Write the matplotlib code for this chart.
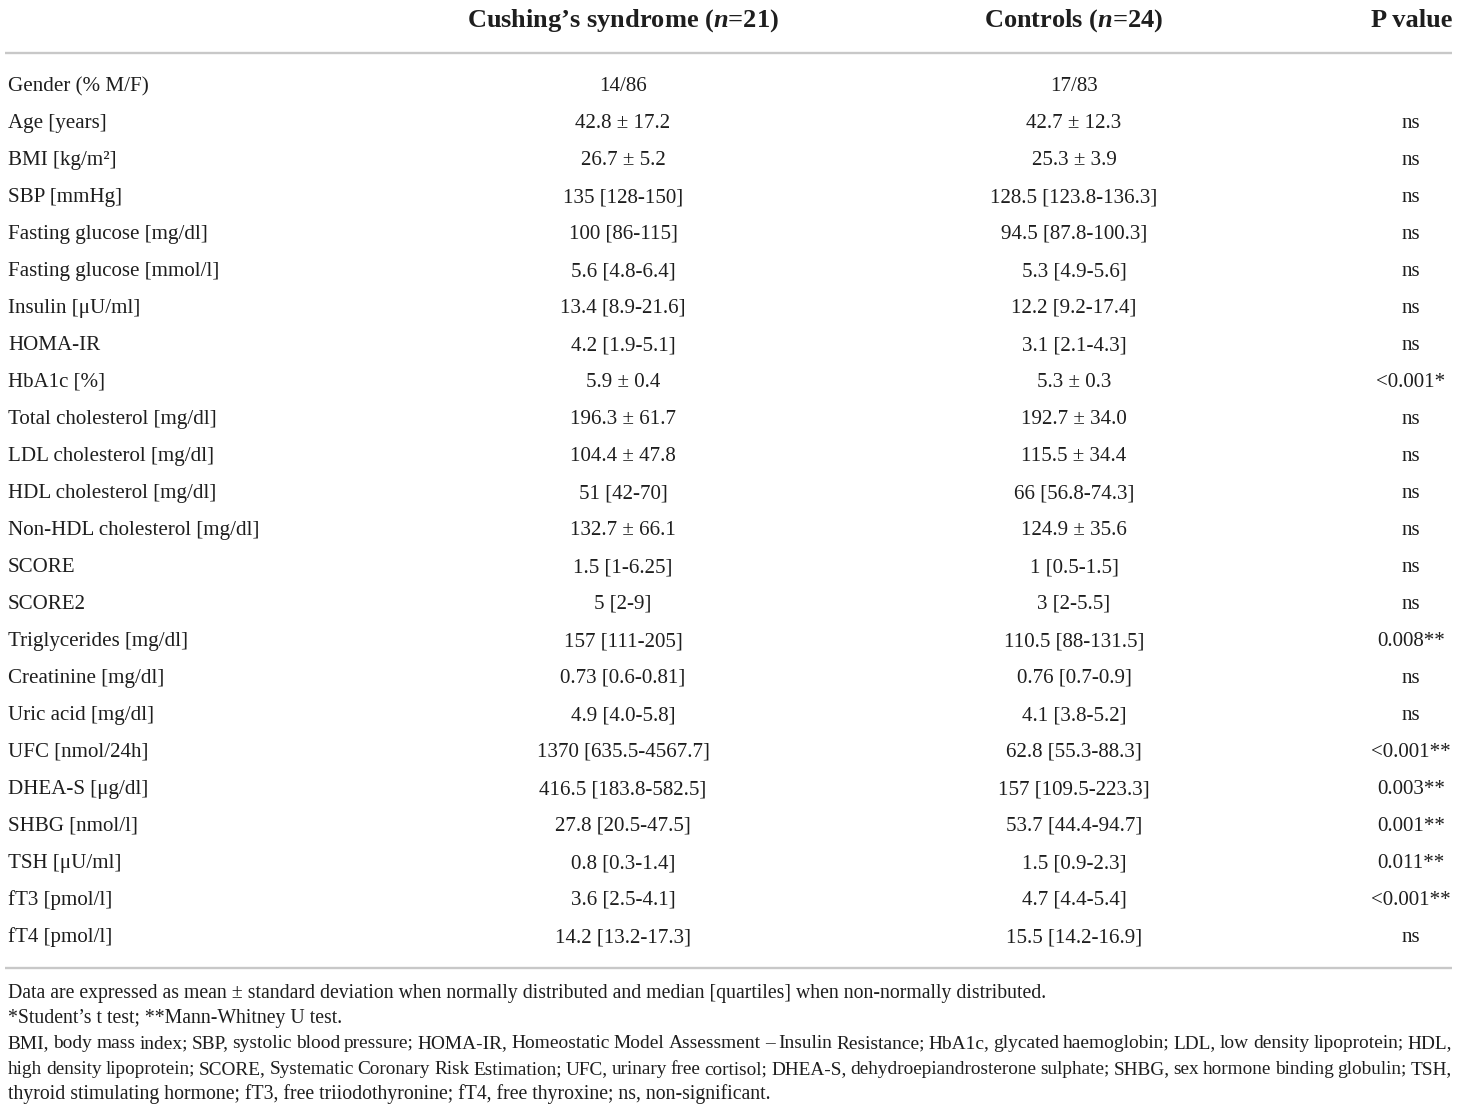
import matplotlib
matplotlib.use('Agg')
import matplotlib.pyplot as plt

plt.rcParams['font.family'] = 'Liberation Serif'
plt.rcParams['mathtext.fontset'] = 'custom'
plt.rcParams['mathtext.rm'] = 'Liberation Serif:bold'
plt.rcParams['mathtext.it'] = 'Liberation Serif:italic:bold'

headers = ['Cushing’s syndrome ($n$=21)', 'Controls ($n$=24)', 'P value']

labels = ['Gender (% M/F)', 'Age [years]', 'BMI [kg/m²]', 'SBP [mmHg]',
          'Fasting glucose [mg/dl]', 'Fasting glucose [mmol/l]', 'Insulin [μU/ml]',
          'HOMA-IR', 'HbA1c [%]', 'Total cholesterol [mg/dl]', 'LDL cholesterol [mg/dl]',
          'HDL cholesterol [mg/dl]', 'Non-HDL cholesterol [mg/dl]', 'SCORE', 'SCORE2',
          'Triglycerides [mg/dl]', 'Creatinine [mg/dl]', 'Uric acid [mg/dl]',
          'UFC [nmol/24h]', 'DHEA-S [μg/dl]', 'SHBG [nmol/l]', 'TSH [μU/ml]',
          'fT3 [pmol/l]', 'fT4 [pmol/l]']

cushing = ['14/86', '42.8 ± 17.2', '26.7 ± 5.2', '135 [128-150]', '100 [86-115]',
           '5.6 [4.8-6.4]', '13.4 [8.9-21.6]', '4.2 [1.9-5.1]', '5.9 ± 0.4',
           '196.3 ± 61.7', '104.4 ± 47.8', '51 [42-70]', '132.7 ± 66.1', '1.5 [1-6.25]',
           '5 [2-9]', '157 [111-205]', '0.73 [0.6-0.81]', '4.9 [4.0-5.8]',
           '1370 [635.5-4567.7]', '416.5 [183.8-582.5]', '27.8 [20.5-47.5]',
           '0.8 [0.3-1.4]', '3.6 [2.5-4.1]', '14.2 [13.2-17.3]']

controls = ['17/83', '42.7 ± 12.3', '25.3 ± 3.9', '128.5 [123.8-136.3]',
            '94.5 [87.8-100.3]', '5.3 [4.9-5.6]', '12.2 [9.2-17.4]', '3.1 [2.1-4.3]',
            '5.3 ± 0.3', '192.7 ± 34.0', '115.5 ± 34.4', '66 [56.8-74.3]',
            '124.9 ± 35.6', '1 [0.5-1.5]', '3 [2-5.5]', '110.5 [88-131.5]',
            '0.76 [0.7-0.9]', '4.1 [3.8-5.2]', '62.8 [55.3-88.3]', '157 [109.5-223.3]',
            '53.7 [44.4-94.7]', '1.5 [0.9-2.3]', '4.7 [4.4-5.4]', '15.5 [14.2-16.9]']

pvals = ['', 'ns', 'ns', 'ns', 'ns', 'ns', 'ns', 'ns', '<0.001*', 'ns', 'ns', 'ns',
         'ns', 'ns', 'ns', '0.008**', 'ns', 'ns', '<0.001**', '0.003**', '0.001**',
         '0.011**', '<0.001**', 'ns']

notes = [
    'Data are expressed as mean ± standard deviation when normally distributed and median [quartiles] when non-normally distributed.',
    '*Student’s t test; **Mann-Whitney U test.',
    'BMI, body mass index; SBP, systolic blood pressure; HOMA-IR, Homeostatic Model Assessment – Insulin Resistance; HbA1c, glycated haemoglobin; LDL, low density lipoprotein; HDL,',
    'high density lipoprotein; SCORE, Systematic Coronary Risk Estimation; UFC, urinary free cortisol; DHEA-S, dehydroepiandrosterone sulphate; SHBG, sex hormone binding globulin; TSH,',
    'thyroid stimulating hormone; fT3, free triiodothyronine; fT4, free thyroxine; ns, non-significant.',
]
justified = [False, False, True, True, False]

ink = '#1e1e1e'
rule = '#c8c8c8'

fig = plt.figure(figsize=(14.6, 11.11), dpi=100)
ax = fig.add_axes([0, 0, 1, 1])
ax.set_xlim(0, 1460)
ax.set_ylim(1111, 0)
ax.axis('off')

# header
col_x = [623, 1074, 1452]
ax.text(col_x[0], 27, headers[0], ha='center', va='baseline', fontsize=19, fontweight='bold', color=ink)
ax.text(col_x[1], 27, headers[1], ha='center', va='baseline', fontsize=19, fontweight='bold', color=ink)
ax.text(col_x[2], 27, headers[2], ha='right', va='baseline', fontsize=19, fontweight='bold', color=ink)

ax.plot([5, 1452], [53, 53], color=rule, lw=1.7, solid_capstyle='butt')
ax.plot([5, 1452], [968, 968], color=rule, lw=1.7, solid_capstyle='butt')

# rows
y0, dy = 91, 37.0
for i, (lab, c, k, p) in enumerate(zip(labels, cushing, controls, pvals)):
    y = y0 + i * dy
    ax.text(8, y, lab, ha='left', va='baseline', fontsize=15.1, color=ink)
    ax.text(623, y, c, ha='center', va='baseline', fontsize=15.1, color=ink)
    ax.text(1074, y, k, ha='center', va='baseline', fontsize=15.1, color=ink)
    ax.text(1411, y, p, ha='center', va='baseline', fontsize=15.1, color=ink)

# footnotes
renderer = fig.canvas.get_renderer()
fs_note = 14.25
x_left, x_right = 8, 1452

def put_line(txt, y, justify):
    if not justify:
        ax.text(x_left, y, txt, ha='left', va='baseline', fontsize=fs_note, color=ink)
        return
    words = txt.split(' ')
    objs = [ax.text(0, y, w, ha='left', va='baseline', fontsize=fs_note, color=ink) for w in words]
    widths = [o.get_window_extent(renderer).width for o in objs]
    min_gap = 0.2 * fs_note * 100 / 72
    gap = (x_right - x_left - sum(widths)) / (len(words) - 1)
    if gap < min_gap:
        # shrink this line slightly so the words keep some space
        fs = fs_note * (x_right - x_left - min_gap * (len(words) - 1)) / sum(widths)
        for o in objs:
            o.set_fontsize(fs)
        widths = [o.get_window_extent(renderer).width for o in objs]
        gap = (x_right - x_left - sum(widths)) / (len(words) - 1)
    x = x_left
    for o, w in zip(objs, widths):
        o.set_x(x)
        x += w + gap

note_y = [998, 1023, 1048, 1074, 1099]
for txt, yy, jst in zip(notes, note_y, justified):
    put_line(txt, yy, jst)

fig.savefig('out.png', dpi=100)
